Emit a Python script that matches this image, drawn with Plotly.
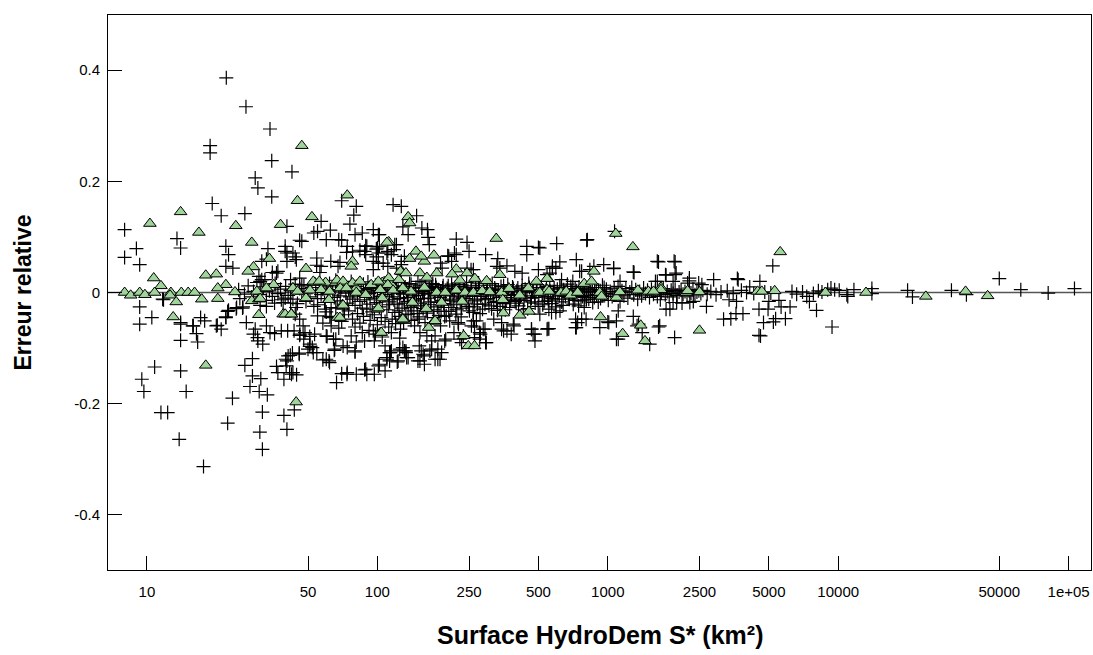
import plotly.graph_objects as go

# ---------------- data ----------------
# Observations, "+" markers : (surface km2, relative error)
plus_high = [(22.1,0.386),(26.9,0.334),(34.2,0.294),(18.8,0.264),(18.8,0.251),(34.8,0.237),(42.6,0.217),
    (29.5,0.206),(30.3,0.188),(34.8,0.172),(19.2,0.16),(21,0.138),(26.6,0.142),(8.0,0.113),(13.5,0.097),
    (70,0.165),(81,0.155),(117,0.158),(127,0.155),(79,0.139),(76,0.123),(57,0.128),(40.5,0.119),(53,0.107),
    (55,0.11),(62.5,0.112),(46,0.094),(47,0.092),(60,0.095),(70,0.094),(86,0.107),(80,0.104),(96,0.113),
    (101,0.104),(148,0.138),(129,0.118),(156,0.116),(165,0.113),(102,0.104),(136,0.104),(1070,0.11)]

plus_mid = [(9.0,0.079),(8.0,0.063),(9.3,0.05),(14,0.08),(22,0.083),(22.6,0.068),(22,0.047),(23.6,0.044),
    (33.5,0.079),(39.8,0.083),(40.5,0.071),(31.5,0.056),(33,0.06),(35,0.036),(36.5,0.035),(44,0.064),
    (54.5,0.049),(56.3,0.036),(68,0.095),(74,0.083),(89,0.084),(100,0.08),(119,0.086),(89,0.068),
    (99,0.064),(96,0.041),(66,0.022),(30.6,0.029),(31.5,0.023),(39.8,0.074),(43,0.071),(44.5,0.059),
    (40.5,0.056),(54.6,0.062),(57,0.047),(62.8,0.056),(67.5,0.047),(68.8,0.054),(73.5,0.072),(78,0.073),
    (84,0.076),(88,0.074),(90,0.083),(99,0.078),(101,0.071),(110,0.071),(115,0.068),(118,0.077),(96,0.056),
    (101,0.053),(106,0.053),(111,0.047),(121,0.044),(127,0.056),(37,0.038),(42,0.023),(46,0.026),(47,0.014),
    (31,0.02),(32.5,0.023),(121,0.086),(111,0.074),(127,0.05),(131,0.065),(166,0.099),(168,0.086),
    (220,0.096),(245,0.09),(250,0.074),(204,0.065),(216,0.071),(220,0.068),(295,0.068),(333,0.061),
    (445,0.083),(500,0.081),(445,0.068),(600,0.088),(619,0.055),(730,0.059),(815,0.095),(960,0.05),
    (1060,0.043),(870,0.047),(575,0.047),(595,0.044),(500,0.041),(365,0.048),(330,0.047),(255,0.041),
    (1660,0.055),(1960,0.055),(1790,0.031),(1960,0.032),(1290,0.037),(1640,0.02),(1920,0.02),(755,0.038),
    (705,0.02),(1130,0.02),(102,0.083),(202,0.066),(210,0.056),(188,0.053),(191,0.044),(245,0.044),
    (261,0.041),(340,0.044),(395,0.038),(425,0.035),(545,0.032),(507,0.08),(770,0.038),(836,0.041),
    (1060,0.044),(1300,0.036),(1640,0.056),(1940,0.056),(1780,0.032),(1980,0.035),(1610,0.02),(2220,0.017),
    (2260,0.021),(5200,0.048),(3680,0.023),(4570,0.02),(2880,0.023),(2260,0.026),(2480,0.017),(2560,0.014),
    (560,0.035),(575,0.044),(810,0.094),(630,0.023),(50000,0.025),(4130,0.01),(3650,0.025)]

plus_low = [(9.3,-0.026),(9.3,-0.057),(10.5,-0.045),(11.8,-0.013),(14,-0.054),(14,-0.086),(15.9,-0.06),
    (16.4,-0.074),(16.6,-0.089),(17.1,-0.045),(17.8,-0.051),(20.2,-0.059),(21,-0.066),(22,-0.044),
    (22.4,-0.034),(24.5,-0.027),(25.3,-0.011),(26.1,-0.026),(10.8,-0.134),(9.5,-0.156),(9.7,-0.178),
    (14,-0.141),(14.8,-0.178),(11.5,-0.216),(12.3,-0.216),(13.8,-0.264),(17.6,-0.313),(22.4,-0.235),
    (23.5,-0.19),(26.6,-0.131),(28.7,-0.119),(28.7,-0.15),(31.2,-0.155),(28,-0.169),(30.7,-0.178),
    (33.3,-0.184),(31.7,-0.215),(30.9,-0.251),(31.7,-0.282),(39.3,-0.221),(43.6,-0.211),(40.5,-0.246),
    (36.5,-0.133),(37,-0.144),(39.3,-0.156),(42.4,-0.147),(44.6,-0.148),(29.5,-0.066),(30.2,-0.081),
    (31.8,-0.093),(27,-0.054),(33,-0.06),(34.2,-0.072),(35.8,-0.074),(38.3,-0.069),(40,-0.12),(41,-0.114),
    (42.8,-0.109),(45.8,-0.109),(50.9,-0.093),(52.2,-0.099),(54.6,-0.108),(50,-0.102),(58,-0.121),
    (61.7,-0.123),(65.3,-0.102),(66,-0.084),(60.5,-0.079),(66.5,-0.162),(70,-0.146),(73.8,-0.147),
    (81,-0.147),(88,-0.139),(90,-0.147),(101,-0.132),(108,-0.141),(110,-0.12),(114,-0.108),(122,-0.125),
    (80,-0.107),(81,-0.089),(88,-0.087),(97,-0.087),(40.5,-0.123),(40.2,-0.132),(41.9,-0.113),
    (41.6,-0.144),(45.8,-0.111),(47.9,-0.084),(46.1,-0.075),(53.4,-0.075),(65,-0.104),(77,-0.078),
    (86,-0.072),(96,-0.069),(29,-0.075),(30.3,-0.087),(40.8,-0.069),(43.5,-0.069),(46,-0.077),
    (11.7,-0.012),(14,-0.057),(15.8,-0.06),(20,-0.06),(26,-0.028),(24.4,-0.029),(22.6,-0.032),(22,-0.045),
    (31,-0.023),(33,-0.025),(35.8,-0.019),(38.3,-0.013),(39.8,-0.01),(42,-0.019),(44.4,-0.027),(44,-0.039),
    (46,-0.048),(47.6,-0.06),(48.5,-0.072),(50.9,-0.079),(50.9,-0.097),(52.7,-0.108),(55,-0.022),
    (59.4,-0.03),(62.2,-0.043),(63,-0.06),(60,-0.078),(64.5,-0.084),(71,-0.096),(74,-0.099),(80,-0.105),
    (108,-0.096),(113,-0.108),(125,-0.102),(133,-0.108),(60,-0.12),(62,-0.126),(74,-0.144),(89,-0.138),
    (97,-0.147),(102,-0.129),(43,-0.144)]

plus_low_mid = [(125,-0.043),(136,-0.039),(150,-0.048),(161,-0.054),(188,-0.06),(206,-0.051),(225,-0.057),
    (264,-0.062),(261,-0.051),(288,-0.066),(295,-0.09),(264,-0.081),(280,-0.075),(215,-0.072),(228,-0.084),
    (320,-0.048),(346,-0.066),(365,-0.069),(392,-0.06),(467,-0.066),(483,-0.075),(483,-0.087),(545,-0.066),
    (129,-0.099),(133,-0.105),(136,-0.117),(152,-0.096),(155,-0.105),(160,-0.114),(172,-0.102),(178,-0.12),
    (187,-0.12),(190,-0.108),(150,-0.123),(160,-0.129),(198,-0.084),(232,-0.09),(236,-0.078),
    (113,-0.123),(123,-0.123),(110,-0.117),(115,-0.105),(131,-0.105),(134,-0.117),(153,-0.123),
    (158,-0.111),(169,-0.105),(183,-0.102),(183,-0.12),(172,-0.087),(196,-0.087),(178,-0.078),(153,-0.072),
    (164,-0.078),(196,-0.043),(224,-0.054),(256,-0.06),(269,-0.051),(278,-0.072),(293,-0.066),(297,-0.09),
    (278,-0.084),(346,-0.054),(353,-0.069),(389,-0.057),(381,-0.075),(466,-0.066),(474,-0.075),(550,-0.065),
    (507,-0.039),(570,-0.036),(620,-0.033),(730,-0.063),(740,-0.054),(770,-0.048),(923,-0.063),
    (1000,-0.053),(1110,-0.033),(1090,-0.051),(1290,-0.043),(1340,-0.06),(1410,-0.072),(1090,-0.084),
    (1660,-0.062),(1950,-0.081),(1790,-0.03),(1920,-0.018),(555,-0.03),(595,-0.036),(555,-0.065),
    (725,-0.048),(725,-0.063),(790,-0.027),(805,-0.048),(1010,-0.054),(1360,-0.057),(1110,-0.084),
    (1860,-0.03),(1690,-0.013),(1990,-0.018),(2270,-0.018)]

plus_right = [(2100,-0.019),(2350,-0.016),(2680,-0.025),(3360,-0.013),(3620,-0.016),(3420,-0.047),
    (3860,-0.038),(4960,-0.03),(6180,-0.026),(5530,-0.014),(5230,-0.053),(5900,-0.047),(4600,-0.078),
    (1680,-0.06),(1520,-0.093),(9400,-0.062),(8050,-0.032),(7500,-0.016),(7300,-0.007),(9000,0.005),
    (9300,0.008),(9650,0.005),(10100,0.004),(11000,-0.007),(11700,0.005),(10900,-0.004),(14000,0.007),
    (14000,-0.002),(20000,0.004),(21000,-0.008),(31000,0.004),(36000,-0.004),(62000,0.005),(81500,-0.001),
    (106000,0.007),(3180,-0.048),(3600,-0.038),(4530,-0.03),(4740,-0.054),(4530,-0.077),(5350,-0.047),
    (5000,-0.016),(5650,-0.026)]

plus_band = [(25,0.005),(26.5,-0.003),(27.5,0.012),(28.5,-0.008),(29,0.002),(30,0.018),(31,-0.004),(32,0.01),
    (33,-0.014),(34,0.003),(35,-0.007),(36,0.016),(37,-0.002),(38,0.006),(39,-0.018),(40,0.011),(41,-0.005),
    (42,0.004),(43,-0.012),(44,0.015),(45,-0.02),(46,0.007),(47,-0.003),(48,0.012),(49,-0.016),(50,0.002),
    (51,-0.008),(52,0.009),(53,-0.025),(54,0.004),(55,-0.011),(56,0.013),(57,-0.004),(58,0.006),(59,-0.018),
    (60,0.01),(61,-0.002),(62,0.016),(63,-0.027),(64,0.005),(65,-0.009),(66,0.012),(67,-0.015),(68,0.003),
    (69,-0.006),(70,0.009),(71,-0.03),(72,0.014),(73,-0.001),(74,-0.019),(75,0.006),(76,-0.008),(77,0.02),
    (78,-0.012),(79,0.002),(80,-0.023),(81,0.011),(82,-0.004),(83,0.007),(84,-0.016),(85,0.003),(86,-0.028),
    (87,0.015),(88,-0.007),(89,0.005),(90,-0.013),(91,0.019),(92,-0.002),(93,-0.021),(94,0.008),(95,-0.035),
    (96,0.001),(97,-0.01),(98,0.013),(99,-0.018),(100,0.004),(102,-0.026),(104,0.009),(105,-0.013),
    (107,0.017),(108,-0.004),(110,-0.031),(111,0.006),(113,-0.017),(114,0.021),(116,-0.008),(117,0.002),
    (119,-0.036),(120,0.012),(122,-0.021),(123,0.005),(125,-0.011),(127,0.018),(128,-0.028),(130,-0.003),
    (132,0.01),(133,-0.04),(135,-0.016),(137,0.007),(139,-0.024),(140,0.015),(142,-0.006),(144,-0.033),
    (146,0.003),(148,-0.012),(150,0.02),(152,-0.044),(154,-0.019),(156,0.008),(158,-0.029),(160,-0.002),
    (162,0.013),(165,-0.037),(167,-0.01),(169,0.004),(171,-0.022),(174,0.016),(176,-0.031),(178,-0.006),
    (180,0.009),(183,-0.018),(185,-0.041),(188,0.002),(190,-0.014),(193,0.012),(195,-0.027),(198,-0.004),
    (201,0.007),(204,-0.034),(207,-0.012),(210,0.015),(213,-0.022),(216,0.003),(219,-0.039),(222,-0.008),
    (226,0.011),(229,-0.017),(232,-0.028),(236,0.005),(240,-0.011),(244,0.018),(248,-0.025),(252,-0.003),
    (256,0.009),(260,-0.036),(264,-0.015),(268,0.004),(272,-0.021),(277,0.013),(281,-0.007),(286,-0.03),
    (290,0.001),(295,-0.013),(300,0.008),(305,-0.024),(310,-0.002),(315,0.016),(320,-0.018),(326,0.005),
    (332,-0.032),(338,-0.009),(344,0.011),(350,-0.02),(356,0.002),(362,-0.012),(368,0.014),(375,-0.027),
    (382,-0.005),(389,0.007),(396,-0.016),(403,0.003),(410,-0.024),(418,-0.007),(425,0.012),(433,-0.014),
    (441,0.001),(449,-0.029),(457,0.009),(466,-0.01),(475,0.004),(484,-0.019),(493,0.014),(502,-0.004),
    (512,0.006),(522,-0.022),(532,-0.008),(542,0.011),(552,-0.015),(563,0.002),(574,-0.011),(585,0.008),
    (596,-0.026),(607,-0.003),(619,0.012),(631,-0.017),(643,0.005),(655,-0.007),(668,0.015),(681,-0.012),
    (694,0.002),(708,-0.021),(722,0.007),(736,-0.005),(750,0.01),(765,-0.015),(780,0.003),(795,-0.009)]

plus_band2 = [(811,0.006),(827,-0.012),(843,0.001),(860,-0.018),(877,0.009),(894,-0.004),(912,0.004),
    (930,-0.011),(948,0.013),(967,-0.002),(986,0.006),(1005,-0.014),(1025,0.002),(1045,-0.007),(1066,0.008),
    (1087,-0.003),(1108,0.011),(1130,-0.016),(1152,0.003),(1175,-0.006),(1198,0.007),(1222,-0.01),
    (1246,0.001),(1271,0.009),(1296,-0.004),(1322,0.005),(1348,-0.012),(1375,0.002),(1402,-0.006),
    (1430,0.008),(1458,-0.002),(1487,0.004),(1517,-0.009),(1547,0.006),(1578,-0.003),(1609,0.003),
    (1641,-0.007),(1674,0.005),(1707,-0.001),(1741,0.007),(1776,-0.004),(1811,0.002),(1847,-0.008),
    (1884,0.004),(1921,-0.002),(1960,0.006),(1999,-0.005),(2039,0.001),(2080,0.004),(2121,-0.003),
    (2163,0.002),(2207,-0.006),(2251,0.003),(2296,-0.001),(2342,0.005),(2389,-0.004),(2437,0.001),
    (2485,0.003),(2535,-0.002),(2586,0.004),(2700,-0.003),(2800,0.002),(2950,-0.004),(3100,0.001),
    (3300,0.003),(3500,-0.002),(3800,0.004),(4000,0.0),(4300,-0.002),(4800,0.001),(5100,-0.001),
    (6300,0.002),(6600,-0.003),(7000,0.001),(7800,-0.002),(8200,0.003),(8500,0.001),
    (101,0.014),(103,-0.007),(106,0.001),(109,0.012),(112,-0.022),(115,0.003),(118,-0.013),(121,0.008),
    (124,-0.033),(126,-0.001),(129,0.011),(131,-0.019),(134,0.004),(136,-0.009),(138,0.016),(141,-0.027),
    (143,0.001),(145,-0.015),(147,0.009),(149,-0.038),(151,-0.005),(153,0.012),(155,-0.024),(157,0.002),
    (159,-0.011),(161,0.019),(163,-0.032),(166,-0.003),(168,0.007),(170,-0.017),(172,0.011),(175,-0.045),
    (177,-0.001),(179,0.014),(182,-0.026),(184,0.005),(187,-0.009),(189,-0.034),(192,0.008),(194,-0.02),
    (197,0.002),(199,-0.042),(203,0.012),(206,-0.006),(209,-0.027),(212,0.006),(215,-0.015),(218,0.01),
    (221,-0.031),(225,-0.002),(228,0.014),(231,-0.044),(235,-0.01),(239,0.008),(243,-0.019),(247,0.003),
    (251,-0.033),(255,0.012),(259,-0.007),(263,-0.026),(267,0.007),(271,-0.012),(275,0.017),(279,-0.038),
    (284,-0.004),(288,0.009),(293,-0.021),(298,0.002),(303,-0.011),(308,0.013),(313,-0.029),(318,-0.006),
    (323,0.008),(329,-0.016),(335,0.004),(341,-0.025),(347,-0.002),(353,0.012),(359,-0.031),(365,-0.009),
    (372,0.006),(379,-0.014),(386,0.01),(393,-0.004),(400,-0.019),(407,0.008),(414,-0.012),(422,0.003),
    (430,-0.031),(438,0.006),(446,-0.006),(454,0.016),(463,-0.017),(472,0.001),(481,-0.009),(490,0.005),
    (499,-0.025),(509,0.009),(519,-0.003),(529,-0.016),(539,0.004),(549,-0.008),(560,0.013),(571,-0.02),
    (582,0.001),(593,-0.012),(604,0.006),(616,-0.006),(628,0.009),(640,-0.023),(652,-0.001),(665,0.004),
    (678,-0.009),(691,0.011),(705,-0.004),(719,-0.014),(733,0.003),(747,-0.024),(762,0.006),(777,-0.007),
    (792,0.001),(808,-0.013),(824,0.008),(840,-0.005),(857,0.002),(874,-0.009),(891,0.005),(909,-0.017),
    (927,0.003),(945,-0.006),(964,0.009),(983,-0.002),
    (60,-0.035),(63,-0.045),(66,-0.028),(70,-0.052),(72,-0.04),(75,-0.033),(78,-0.048),(82,-0.038),
    (84,-0.055),(87,-0.043),(90,-0.03),(93,-0.05),(97,-0.04),(100,-0.058),(104,-0.045),(108,-0.052),
    (112,-0.062),(116,-0.048),(120,-0.056),(126,-0.066),(130,-0.055),(140,-0.05),(145,-0.06),(55,-0.042),
    (58,-0.055),(68,-0.064),(80,-0.062),(92,-0.068),(98,-0.075),(105,-0.08),(115,-0.072),(125,-0.082)]

# Second group, green triangles : (surface km2, relative error)
tri_a = [(47,0.264),(45,0.165),(74,0.175),(10.3,0.124),(14,0.145),(16.8,0.108),(24.3,0.12),(52,0.136),
    (38,0.122),(28.5,0.09),(112,0.091),(34,0.061),(29,0.046),(27.5,0.038),(49,0.043),(78,0.056),(77,0.047),
    (10.7,0.026),(11.5,0.012),(18,0.031),(20,0.033),(22,0.014),(8.0,0.0),(8.5,-0.005),(9.3,0.0),
    (9.8,-0.004),(10.8,0.0),(12.7,0.0),(14.1,0.0),(15.1,0.0),(16.1,0.0),(20.3,0.008),(24.1,0.001),
    (30,0.002),(33.1,0.007),(35.5,0.014),(43,0.008),(53.5,0.018),(59.6,0.018),(66,0.018),(70.7,0.017),
    (81,0.008),(93,0.012),(105,0.018),(115,0.014),(12.6,-0.005),(13.4,-0.017),(17.3,-0.012),(20.3,-0.011),
    (13,-0.044),(18,-0.131),(44.4,-0.197),(28.5,-0.015),(30.6,-0.012),(30.6,-0.04),(39,-0.039),
    (42.4,-0.039),(49,-0.01),(61.5,-0.013),(67,-0.045),(103,-0.072),(100,-0.03),(105,-0.01),(70.5,-0.022)]

tri_b = [(136,0.136),(138,0.125),(110,0.09),(328,0.097),(1083,0.106),(1285,0.082),(147,0.074),(176,0.067),
    (160,0.056),(138,0.061),(155,0.065),(220,0.042),(340,0.032),(548,0.025),(870,0.038),(1700,0.009),
    (128,0.037),(153,0.035),(181,0.035),(211,0.033),(131,-0.05),(176,-0.052),(167,-0.063),(237,-0.078),
    (248,-0.096),(264,-0.096),(352,-0.037),(415,-0.041),(455,-0.034),(930,-0.044),(1390,-0.059),
    (1160,-0.074),(1450,-0.087),(5600,0.073),(2500,-0.068),(1560,0.0),(1700,0.005),(2190,0.0),(2500,0.001),
    (4470,0.002),(4660,0.002),(5300,0.003),(8800,0.0),(13200,0.0),(24000,-0.007),(35700,0.002),
    (44500,-0.006),(245,0.035),(490,0.02),(545,0.025),(164,0.027),(228,0.022),(265,0.025),(298,0.021)]

tri_c = [(140,0.002),(160,0.009),(181,0.0),(197,0.0),(220,0.004),(240,0.0),(261,0.0),(285,0.003),
    (307,0.001),(346,0.0),(373,0.007),(415,-0.005),(452,0.008),(499,0.0),(545,0.005),(142,-0.018),
    (163,-0.029),(190,-0.018),(233,-0.016),(350,-0.013),(128,-0.048),(178,-0.051),(790,0.016),(850,0.02),
    (507,0.0),(556,0.002),(626,0.0),(660,0.002),(690,-0.005),(740,0.0),(923,0.0),(940,-0.007),(1090,-0.009),
    (1128,0.001),(1350,0.004),(1500,0.002),(1580,0.002),(2220,0.003),(52.7,0.02),(56,0.02),(66.8,0.022),
    (71,0.02),(78,0.017),(84,0.02),(94,0.014),(101,0.02),(112,0.026),(124,0.023),(126,0.038),(133,0.035),
    (111,0.014),(103,0.005),(117,0.004),(129,0.008),(33,0.008),(43,0.008),(45,0.002),(51,0.004),(57,0.005),
    (62,0.002),(69,0.008),(73.5,0.008),(81,0.0),(89,-0.004),(39.8,-0.039),(42.3,-0.039),(61.7,-0.013),
    (71,-0.023),(68.8,-0.045),(101,-0.028),(104,-0.072),(129,-0.048),(31,-0.011)]

plus_all = plus_high + plus_mid + plus_low + plus_low_mid + plus_right + plus_band + plus_band2
tri_all = tri_a + tri_b + tri_c

x_ticks = [10, 50, 100, 250, 500, 1000, 2500, 5000, 10000, 50000, 100000]
x_tick_text = ["10", "50", "100", "250", "500", "1000", "2500", "5000", "10000", "50000", "1e+05"]
y_ticks = [-0.4, -0.2, 0, 0.2, 0.4]
y_tick_text = ["-0.4", "-0.2", "0", "0.2", "0.4"]

# ---------------- figure ----------------
FONT = "Liberation Sans, Arial, Helvetica, sans-serif"
fig = go.Figure()
fig.add_trace(go.Scatter(
    x=[p[0] for p in plus_all], y=[p[1] for p in plus_all], mode="markers",
    marker=dict(symbol="cross-thin", size=10, color="black", line=dict(color="black", width=1.2)),
    hoverinfo="x+y", showlegend=False))
fig.add_trace(go.Scatter(
    x=[p[0] for p in tri_all], y=[p[1] for p in tri_all], mode="markers",
    marker=dict(symbol="triangle-up", size=11, color="#9fd49a", line=dict(color="black", width=1)),
    hoverinfo="x+y", showlegend=False))

fig.add_shape(type="line", xref="paper", x0=0, x1=1, yref="y", y0=0, y1=0,
              line=dict(color="#555555", width=1.5), layer="below")

fig.update_layout(
    width=1093, height=655,
    margin=dict(l=108, r=2, t=15, b=85),
    paper_bgcolor="white", plot_bgcolor="white",
    font=dict(family=FONT, size=15, color="black"),
    xaxis=dict(type="log", range=[0.831, 5.097], tickvals=x_ticks, ticktext=x_tick_text,
               ticks="inside", ticklen=14, tickwidth=1, tickcolor="black",
               showline=True, linecolor="black", linewidth=1, mirror=True,
               showgrid=False, zeroline=False, ticklabelstandoff=8,
               tickfont=dict(family=FONT, size=15)),
    yaxis=dict(range=[-0.499, 0.499], tickvals=y_ticks, ticktext=y_tick_text,
               ticks="inside", ticklen=14, tickwidth=1, tickcolor="black",
               showline=True, linecolor="black", linewidth=1, mirror=True,
               showgrid=False, zeroline=False, ticklabelstandoff=4,
               tickfont=dict(family=FONT, size=15)),
    annotations=[
        dict(text="<b>Surface HydroDem S* (km²)</b>", xref="paper", yref="paper", x=0.5, y=0,
             yshift=-65, xanchor="center", yanchor="middle", showarrow=False,
             font=dict(family=FONT, size=25, color="black")),
        dict(text="<b>Erreur relative</b>", xref="paper", yref="paper", x=0, y=0.5,
             xshift=-86, xanchor="center", yanchor="middle", textangle=-90, showarrow=False,
             font=dict(family=FONT, size=23, color="black")),
    ],
)

fig.write_html("out.html", config={"displayModeBar": False},
               post_script="document.body.style.margin='0';document.body.style.padding='0';"
                           "document.documentElement.style.overflow='hidden';")
